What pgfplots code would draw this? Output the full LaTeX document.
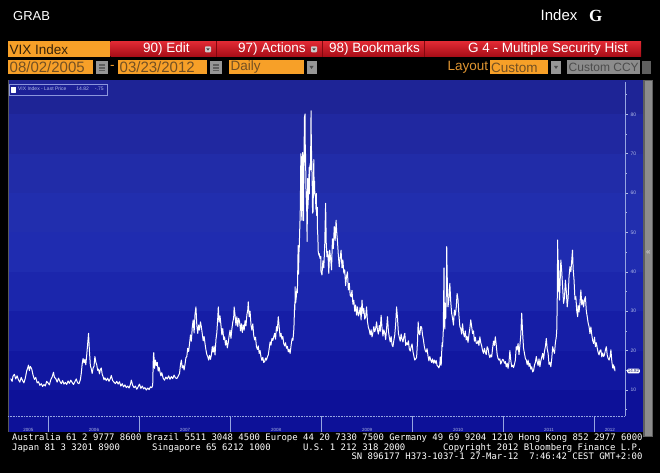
\documentclass[border=0pt]{standalone}
\usepackage{pgfplots}
\usepackage{pgfplotstable}
\pgfplotsset{compat=1.18}
\usepackage{fontspec}
\setmainfont{Liberation Sans}
\newfontfamily\bbmono{DejaVu Sans Mono}
\newfontfamily\bbserif{Liberation Serif}
\definecolor{bbamber}{RGB}{247,160,40}
\definecolor{bblayout}{RGB}{225,150,50}
\definecolor{bbtext}{RGB}{55,35,10}
\definecolor{bbtext2}{RGB}{115,80,35}
\definecolor{bbredtop}{RGB}{225,42,52}
\definecolor{bbredbot}{RGB}{165,12,22}
\definecolor{bbredsep}{RGB}{130,8,15}
\definecolor{bbgray}{RGB}{150,150,150}
\definecolor{bbgraylight}{RGB}{140,140,140}
\definecolor{bbgraydark}{RGB}{95,95,95}
\definecolor{tickc}{RGB}{175,185,230}
\definecolor{axisc}{RGB}{150,165,225}
\definecolor{legfill}{RGB}{28,32,150}
\definecolor{legdraw}{RGB}{140,150,220}
\definecolor{tagtext}{RGB}{20,25,120}
\definecolor{b0}{RGB}{30,36,150}
\definecolor{b1}{RGB}{32,40,160}
\definecolor{b2}{RGB}{33,44,168}
\definecolor{b3}{RGB}{33,46,174}
\definecolor{b4}{RGB}{31,44,176}
\definecolor{b5}{RGB}{27,38,172}
\definecolor{b6}{RGB}{22,30,166}
\definecolor{b7}{RGB}{17,23,160}
\definecolor{b8}{RGB}{13,17,152}

\pgfplotstableread{
t v
2005.585 12.9
2005.600 12.2
2005.610 13.5
2005.625 14.0
2005.640 12.8
2005.655 13.6
2005.670 12.6
2005.685 12.0
2005.700 13.2
2005.715 12.4
2005.730 11.8
2005.745 13.0
2005.760 14.8
2005.770 15.5
2005.780 16.3
2005.790 14.9
2005.800 16.0
2005.815 15.4
2005.830 13.8
2005.845 12.7
2005.860 13.2
2005.875 11.8
2005.890 12.1
2005.905 11.2
2005.920 11.6
2005.935 10.9
2005.950 11.4
2005.965 11.0
2005.980 12.2
2005.995 11.8
2006.010 11.3
2006.025 12.6
2006.040 13.3
2006.055 14.5
2006.065 13.2
2006.080 12.9
2006.095 12.0
2006.110 13.0
2006.125 12.2
2006.140 11.6
2006.155 12.4
2006.170 11.5
2006.185 11.9
2006.200 11.4
2006.215 12.3
2006.230 11.7
2006.245 12.5
2006.260 11.9
2006.275 11.4
2006.290 12.1
2006.305 12.8
2006.320 11.8
2006.335 11.6
2006.350 12.6
2006.360 14.2
2006.370 16.6
2006.380 18.0
2006.390 16.9
2006.400 17.8
2006.410 16.4
2006.420 18.9
2006.430 21.6
2006.440 24.4
2006.450 19.8
2006.460 16.2
2006.470 15.4
2006.480 14.2
2006.490 15.6
2006.500 16.0
2006.510 18.5
2006.520 17.1
2006.530 16.4
2006.540 15.0
2006.550 15.3
2006.560 14.1
2006.570 15.2
2006.580 15.6
2006.590 14.0
2006.600 13.4
2006.610 12.6
2006.620 13.1
2006.635 12.4
2006.650 13.0
2006.665 12.2
2006.680 12.9
2006.690 13.7
2006.705 12.4
2006.720 12.0
2006.735 11.6
2006.750 12.2
2006.765 11.5
2006.780 12.1
2006.795 11.0
2006.810 11.6
2006.825 10.8
2006.840 11.3
2006.855 10.6
2006.870 11.0
2006.885 10.5
2006.900 11.4
2006.910 12.5
2006.925 11.2
2006.940 10.6
2006.955 11.0
2006.970 10.2
2006.985 10.8
2007.000 11.5
2007.015 10.4
2007.030 11.0
2007.045 10.3
2007.060 10.6
2007.075 10.0
2007.090 10.5
2007.105 10.1
2007.120 10.8
2007.135 10.6
2007.145 11.2
2007.152 18.3
2007.157 19.5
2007.165 15.5
2007.175 17.6
2007.185 16.2
2007.195 17.0
2007.205 14.8
2007.215 15.8
2007.225 14.6
2007.235 13.6
2007.245 14.4
2007.260 13.0
2007.275 12.5
2007.290 13.3
2007.305 12.8
2007.320 13.6
2007.335 12.7
2007.350 13.4
2007.365 12.9
2007.380 13.8
2007.395 13.1
2007.410 12.9
2007.425 13.5
2007.440 14.2
2007.450 16.4
2007.460 17.6
2007.470 15.6
2007.480 16.2
2007.490 15.1
2007.500 16.5
2007.510 18.2
2007.520 18.5
2007.530 20.6
2007.540 19.8
2007.550 21.8
2007.560 24.0
2007.570 22.4
2007.580 26.0
2007.590 27.8
2007.600 24.5
2007.610 29.2
2007.620 31.1
2007.630 26.4
2007.640 24.4
2007.650 26.5
2007.660 25.2
2007.670 27.3
2007.680 26.0
2007.690 24.2
2007.700 22.5
2007.710 23.6
2007.720 21.8
2007.730 20.2
2007.740 19.0
2007.750 18.5
2007.760 17.6
2007.770 18.8
2007.780 17.8
2007.790 18.9
2007.800 21.0
2007.810 19.6
2007.820 21.2
2007.830 18.9
2007.840 22.8
2007.850 24.6
2007.860 28.3
2007.866 31.1
2007.875 27.2
2007.885 28.8
2007.895 26.5
2007.905 24.0
2007.915 25.6
2007.925 22.8
2007.935 23.5
2007.945 21.4
2007.955 22.6
2007.965 20.7
2007.975 22.0
2007.985 23.8
2007.995 25.2
2008.005 23.1
2008.015 25.5
2008.025 27.2
2008.035 28.4
2008.040 31.1
2008.050 29.0
2008.060 26.4
2008.070 28.6
2008.080 26.1
2008.090 28.2
2008.100 27.3
2008.110 25.0
2008.120 26.8
2008.130 24.6
2008.140 26.5
2008.150 25.2
2008.160 27.6
2008.170 26.3
2008.180 29.1
2008.190 30.4
2008.195 32.4
2008.205 28.6
2008.215 30.0
2008.225 26.5
2008.235 25.2
2008.245 26.8
2008.255 23.9
2008.265 22.7
2008.275 23.4
2008.285 21.0
2008.295 20.3
2008.305 21.2
2008.315 19.3
2008.325 20.0
2008.335 18.4
2008.345 17.5
2008.355 18.3
2008.365 17.0
2008.375 17.2
2008.385 18.1
2008.395 17.6
2008.405 18.4
2008.415 18.9
2008.425 20.5
2008.435 22.2
2008.445 21.4
2008.455 23.1
2008.465 22.6
2008.475 23.5
2008.485 24.4
2008.495 22.9
2008.505 26.1
2008.515 25.0
2008.520 27.0
2008.525 28.6
2008.535 26.0
2008.545 23.5
2008.555 24.4
2008.565 22.9
2008.575 23.6
2008.585 21.8
2008.595 21.2
2008.605 22.0
2008.615 20.6
2008.625 21.1
2008.635 19.7
2008.645 20.3
2008.655 19.3
2008.6694 22.0
2008.6776 23.1
2008.6858 22.6
2008.6913 24.0
2008.6967 25.7
2008.7049 31.7
2008.7077 30.3
2008.7104 36.2
2008.7131 33.1
2008.7158 32.1
2008.7240 33.9
2008.7295 35.7
2008.7350 34.7
2008.7432 46.7
2008.7459 39.4
2008.7486 39.8
2008.7514 45.3
2008.7541 45.1
2008.7623 52.1
2008.7650 53.7
2008.7678 57.5
2008.7705 63.9
2008.7732 70.0
2008.7814 55.0
2008.7842 53.1
2008.7869 69.3
2008.7896 67.6
2008.7923 70.3
2008.8005 53.0
2008.8033 53.1
2008.8060 69.7
2008.8087 67.8
2008.8115 79.1
2008.8197 80.1
2008.8224 67.0
2008.8251 70.0
2008.8279 62.9
2008.8306 59.9
2008.8388 54.7
2008.8415 47.7
2008.8443 54.6
2008.8470 63.7
2008.8497 56.1
2008.8579 60.0
2008.8607 61.4
2008.8634 66.5
2008.8661 59.8
2008.8689 66.3
2008.8770 67.6
2008.8798 65.9
2008.8825 74.3
2008.8852 80.9
2008.8880 72.7
2008.8962 64.7
2008.8989 60.9
2008.9016 54.9
2008.9071 55.3
2008.9153 68.5
2008.9180 63.0
2008.9208 59.9
2008.9235 63.0
2008.9262 59.9
2008.9344 58.9
2008.9372 56.9
2008.9399 55.7
2008.9426 59.9
2008.9454 54.3
2008.9536 56.4
2008.9563 49.8
2008.9590 49.4
2008.9617 47.3
2008.9645 44.9
2008.9727 44.2
2008.9754 44.6
2008.9836 43.4
2008.9918 43.9
2008.9945 39.9
2008.9973 40.0
2009.005 39.2
2009.015 42.8
2009.025 41.0
2009.035 46.4
2009.045 57.4
2009.052 47.3
2009.060 43.8
2009.070 45.2
2009.080 39.6
2009.090 45.5
2009.100 43.4
2009.110 40.5
2009.120 48.4
2009.130 45.9
2009.140 51.5
2009.150 48.0
2009.160 53.1
2009.168 49.8
2009.175 47.9
2009.185 44.2
2009.195 41.3
2009.205 43.6
2009.215 45.5
2009.225 41.0
2009.235 43.0
2009.245 39.7
2009.255 40.5
2009.265 36.5
2009.275 38.8
2009.285 40.0
2009.295 35.4
2009.305 37.1
2009.315 34.1
2009.325 33.7
2009.335 35.3
2009.345 31.8
2009.355 32.8
2009.365 30.0
2009.375 31.6
2009.385 29.0
2009.395 31.1
2009.405 28.8
2009.415 29.5
2009.425 31.0
2009.435 27.8
2009.445 32.8
2009.455 29.4
2009.465 30.7
2009.475 28.0
2009.485 28.6
2009.495 31.1
2009.505 27.4
2009.515 25.9
2009.525 25.2
2009.535 24.0
2009.545 25.3
2009.555 23.5
2009.565 24.6
2009.575 26.1
2009.585 24.8
2009.595 25.6
2009.605 27.3
2009.615 25.2
2009.625 24.2
2009.635 26.4
2009.645 24.9
2009.655 29.0
2009.665 25.8
2009.675 23.7
2009.685 25.3
2009.695 24.4
2009.705 22.8
2009.715 25.6
2009.725 28.6
2009.735 25.0
2009.745 23.4
2009.755 22.2
2009.765 23.6
2009.775 21.5
2009.785 21.0
2009.795 22.6
2009.805 24.0
2009.815 26.8
2009.825 31.1
2009.835 28.3
2009.845 24.4
2009.855 23.3
2009.865 22.4
2009.875 24.2
2009.885 22.9
2009.895 22.2
2009.905 23.5
2009.915 24.4
2009.925 21.3
2009.935 22.0
2009.945 21.5
2009.955 22.5
2009.965 20.4
2009.975 19.9
2009.985 21.0
2009.995 21.7
2010.005 19.8
2010.015 18.6
2010.025 17.6
2010.035 17.9
2010.045 18.3
2010.055 22.3
2010.062 27.3
2010.070 24.6
2010.080 24.0
2010.090 26.1
2010.100 26.0
2010.110 24.0
2010.120 22.7
2010.130 21.0
2010.140 20.0
2010.150 19.6
2010.160 20.5
2010.170 18.7
2010.180 17.4
2010.190 18.5
2010.200 17.6
2010.210 17.0
2010.220 17.9
2010.230 16.8
2010.240 17.6
2010.250 16.8
2010.260 17.5
2010.270 16.2
2010.280 16.0
2010.290 15.6
2010.300 16.4
2010.305 18.4
2010.315 16.3
2010.325 22.0
2010.330 21.0
2010.338 25.0
2010.342 32.8
2010.346 41.0
2010.350 28.0
2010.355 25.5
2010.360 32.0
2010.365 28.2
2010.372 35.0
2010.376 46.4
2010.380 40.0
2010.385 35.5
2010.390 31.1
2010.400 33.0
2010.410 37.1
2010.420 32.5
2010.430 29.5
2010.440 28.2
2010.450 26.5
2010.460 30.3
2010.470 29.0
2010.480 30.8
2010.490 34.5
2010.500 32.9
2010.510 29.0
2010.520 26.1
2010.530 25.6
2010.540 24.2
2010.550 26.8
2010.560 24.4
2010.570 23.5
2010.580 25.0
2010.590 22.7
2010.600 23.6
2010.610 22.1
2010.620 24.0
2010.630 25.6
2010.640 27.8
2010.650 26.1
2010.660 24.3
2010.670 25.0
2010.680 22.4
2010.690 23.4
2010.700 21.9
2010.710 21.8
2010.720 22.5
2010.730 21.3
2010.740 23.5
2010.750 22.0
2010.760 21.2
2010.770 20.0
2010.780 19.3
2010.790 20.6
2010.800 19.6
2010.810 19.0
2010.820 21.0
2010.830 20.5
2010.840 19.0
2010.850 18.2
2010.860 18.9
2010.870 18.4
2010.880 20.6
2010.890 22.4
2010.900 21.3
2010.910 23.5
2010.920 21.4
2010.930 19.0
2010.940 18.0
2010.950 17.6
2010.960 17.9
2010.970 16.6
2010.980 17.2
2010.990 17.8
2011.000 17.6
2011.010 16.8
2011.020 17.2
2011.030 15.9
2011.040 16.8
2011.050 15.5
2011.060 17.0
2011.070 20.0
2011.080 17.5
2011.090 15.9
2011.100 16.3
2011.110 15.7
2011.120 16.5
2011.130 17.6
2011.140 21.0
2011.150 20.2
2011.160 21.8
2011.170 19.0
2011.180 21.3
2011.190 24.0
2011.200 29.5
2011.210 24.4
2011.220 20.6
2011.230 19.3
2011.240 18.0
2011.250 17.6
2011.260 16.4
2011.270 17.6
2011.280 16.0
2011.290 16.8
2011.300 15.3
2011.310 15.9
2011.320 14.6
2011.330 14.9
2011.340 16.3
2011.350 17.0
2011.360 18.5
2011.370 17.2
2011.380 16.2
2011.390 17.9
2011.400 15.9
2011.410 17.4
2011.420 18.3
2011.430 19.3
2011.440 17.8
2011.450 19.8
2011.460 21.0
2011.470 23.1
2011.480 20.5
2011.490 19.3
2011.500 16.5
2011.510 17.0
2011.520 15.9
2011.530 18.0
2011.540 21.0
2011.550 20.0
2011.560 19.3
2011.570 22.0
2011.580 23.5
2011.585 25.3
2011.590 32.0
2011.595 48.1
2011.600 35.1
2011.605 42.9
2011.610 36.4
2011.615 32.8
2011.620 36.0
2011.630 43.0
2011.640 40.0
2011.650 35.9
2011.660 32.0
2011.670 33.5
2011.680 37.9
2011.690 35.0
2011.700 31.1
2011.710 33.5
2011.720 38.8
2011.730 41.3
2011.740 40.0
2011.750 43.0
2011.758 45.5
2011.765 40.8
2011.775 37.9
2011.785 33.0
2011.795 33.7
2011.805 30.0
2011.815 28.6
2011.820 31.5
2011.830 29.8
2011.840 32.0
2011.850 35.4
2011.860 31.6
2011.870 32.9
2011.880 31.1
2011.890 33.0
2011.900 33.7
2011.910 30.0
2011.920 28.6
2011.930 27.0
2011.940 26.1
2011.950 24.3
2011.960 26.0
2011.970 24.0
2011.980 22.5
2011.990 21.8
2012.000 23.4
2012.010 21.0
2012.020 22.0
2012.030 20.6
2012.040 19.5
2012.050 18.9
2012.060 20.0
2012.070 20.2
2012.080 18.4
2012.090 19.4
2012.100 18.5
2012.110 19.0
2012.120 20.2
2012.130 21.0
2012.140 18.8
2012.150 18.0
2012.160 17.6
2012.170 18.4
2012.180 20.2
2012.190 17.3
2012.200 15.6
2012.210 16.4
2012.215 15.3
2012.220 15.9
2012.225 14.8
}\vix

\begin{document}
\begin{tikzpicture}
\useasboundingbox (0,0) rectangle (660pt,473pt);
\fill[black] (0,0) rectangle (660pt,473pt);
\begin{scope}[x=1pt,y=-1pt,shift={(0pt,473pt)}]
% chart panel bands
\fill[b0] (8,80) rectangle (643,114.2);
\fill[b1] (8,114.2) rectangle (643,153.6);
\fill[b2] (8,153.6) rectangle (643,193);
\fill[b3] (8,193) rectangle (643,232.4);
\fill[b4] (8,232.4) rectangle (643,271.8);
\fill[b5] (8,271.8) rectangle (643,311.2);
\fill[b6] (8,311.2) rectangle (643,350.6);
\fill[b7] (8,350.6) rectangle (643,390);
\fill[b8] (8,390) rectangle (643,432);
\draw[black!65, line width=0.8pt] (8,80) -- (8,432);
% scrollbar
\fill[bbgraydark] (643,80) rectangle (653,437);
\fill[black!45] (644.5,81) rectangle (652,436);
\node[text=black!15, font=\fontsize{8}{8}\selectfont, inner sep=0] at (648.3,253) {«};
% header
\node[anchor=west, inner sep=0, text=white, font=\fontsize{13}{13}\selectfont] at (13,16) {GRAB};
\node[anchor=west, inner sep=0, text=white, font=\fontsize{15}{15}\selectfont] at (540.5,15.5) {Index};
\node[anchor=west, inner sep=0, text=white, font=\bbserif\bfseries\fontsize{17}{17}\selectfont] at (589,16.3) {G};
% row 1
\fill[bbamber] (8,41.5) rectangle (109.5,57);
\node[anchor=west, inner sep=0, text=bbtext, font=\fontsize{13.5}{13.5}\selectfont] at (9.5,49.4) {VIX Index};
\shade[top color=bbredtop, bottom color=bbredbot] (110.5,41.5) rectangle (641,57);
\draw[bbredsep, line width=0.7pt] (216,41.5) -- (216,57) (322,41.5) -- (322,57) (424,41.5) -- (424,57);
\node[anchor=west, inner sep=0, text=white, font=\fontsize{13.5}{13.5}\selectfont] at (143,49.4) {90) Edit};
\node[anchor=west, inner sep=0, text=white, font=\fontsize{13.5}{13.5}\selectfont] at (238,49.4) {97) Actions};
\node[anchor=west, inner sep=0, text=white, font=\fontsize{13.5}{13.5}\selectfont] at (329,49.4) {98) Bookmarks};
\node[anchor=west, inner sep=0, text=white, font=\fontsize{13.5}{13.5}\selectfont] at (468,49.4) {G 4 - Multiple Security Hist};
\foreach \ix in {208,314}{
  \fill[black!20, rounded corners=0.8pt] (\ix-3,46.3) rectangle (\ix+3,52.3);
  \fill[black!75] (\ix-1.8,48.3) -- (\ix+1.8,48.3) -- (\ix,50.6) -- cycle;
}
% row 2
\fill[bbamber] (8,60) rectangle (93,74.5);
\node[anchor=west, inner sep=0, text=bbtext2, font=\fontsize{15}{15}\selectfont] at (9.5,67.4) {08/02/2005};
\fill[bbamber] (118,60) rectangle (207,74.5);
\node[anchor=west, inner sep=0, text=bbtext2, font=\fontsize{15}{15}\selectfont] at (119.5,67.4) {03/23/2012};
\node[anchor=west, inner sep=0, text=bbamber, font=\fontsize{13.5}{13.5}\selectfont] at (110,67.2) {-};
\foreach \ix in {96,210}{
  \fill[bbgray] (\ix,61) rectangle (\ix+11.5,74);
  \fill[bbgraydark] (\ix+2.5,64) rectangle (\ix+9,71.5);
  \draw[bbgray, line width=0.5pt] (\ix+2.5,66.5) -- (\ix+9,66.5) (\ix+2.5,69) -- (\ix+9,69);
}
\fill[bbamber] (229,60) rectangle (304,74.5);
\node[anchor=west, inner sep=0, text=bbtext2, font=\fontsize{13.5}{13.5}\selectfont] at (230.5,67.4) {Daily};
\node[anchor=west, inner sep=0, text=bblayout, font=\fontsize{13.5}{13.5}\selectfont] at (447.5,67.4) {Layout};
\fill[bbamber] (489.5,60) rectangle (548,74.5);
\node[anchor=west, inner sep=0, text=bbtext2, font=\fontsize{13.5}{13.5}\selectfont] at (491,67.4) {Custom};
\foreach \ix in {306.5,551}{
  \fill[bbgray] (\ix,61) rectangle (\ix+10,74);
  \fill[black!70] (\ix+3,66) -- (\ix+7,66) -- (\ix+5,69) -- cycle;
}
\fill[bbgraylight] (567,60) rectangle (640,74.5);
\node[anchor=west, inner sep=0, text=black!70, font=\fontsize{12}{12}\selectfont] at (568.5,67.4) {Custom CCY};
\fill[bbgraydark] (642,61) rectangle (650.5,74.5);
% footer
\node[anchor=base west, inner sep=0, text=white, font=\bbmono\fontsize{8.95}{8.95}\selectfont] at (12,441) {Australia 61 2 9777 8600 Brazil 5511 3048 4500 Europe 44 20 7330 7500 Germany 49 69 9204 1210 Hong Kong 852 2977 6000};
\node[anchor=base west, inner sep=0, text=white, font=\bbmono\fontsize{8.95}{8.95}\selectfont] at (12,450.5) {Japan 81 3 3201 8900};
\node[anchor=base west, inner sep=0, text=white, font=\bbmono\fontsize{8.95}{8.95}\selectfont] at (152,450.5) {Singapore 65 6212 1000};
\node[anchor=base west, inner sep=0, text=white, font=\bbmono\fontsize{8.95}{8.95}\selectfont] at (302.8,450.5) {U.S. 1 212 318 2000};
\node[anchor=base west, inner sep=0, text=white, font=\bbmono\fontsize{8.95}{8.95}\selectfont] at (442.8,450.5) {Copyright 2012 Bloomberg Finance L.P.};
\node[anchor=base west, inner sep=0, text=white, font=\bbmono\fontsize{8.95}{8.95}\selectfont] at (351.3,460) {SN 896177 H373-1037-1 27-Mar-12~~7:46:42 CEST GMT+2:00};
\end{scope}

\begin{axis}[
  at={(8pt,57pt)}, anchor=south west,
  scale only axis, width=617pt, height=334pt,
  xmin=2005.555, xmax=2012.335, ymin=3.4, ymax=88.2,
  clip=false,
  axis x line*=bottom, axis y line*=right,
  x axis line style={draw=axisc, densely dotted, line width=0.6pt},
  y axis line style={draw=axisc, line width=0.5pt},
  /pgf/number format/assume math mode=true,
  xtick={2005.78,2006.5,2007.5,2008.5,2009.5,2010.5,2011.5,2012.17},
  xticklabels={2005,2006,2007,2008,2009,2010,2011,2012},
  xtick style={draw=none},
  xticklabel style={font=\fontsize{4.5}{4.5}\selectfont, text=tickc, anchor=center, yshift=-10.5pt},
  ytick={10,20,30,40,50,60,70,80},
  minor ytick={5,15,25,35,45,55,65,75,85},
  tick align=outside,
  major tick length=3pt, minor tick length=1.8pt,
  ytick style={draw=tickc, line width=0.6pt},
  minor tick style={draw=tickc, line width=0.4pt},
  yticklabel style={font=\fontsize{5}{5}\selectfont, text=tickc, xshift=-1pt},
  legend style={at={(rel axis cs:0,1)}, anchor=north west, xshift=1.3pt, yshift=-2pt,
    fill=legfill, draw=legdraw, line width=0.4pt, font=\fontsize{5}{5}\selectfont,
    text=tickc, inner sep=1.2pt, outer sep=0pt},
  legend image code/.code={\fill[white] (0pt,-2.3pt) rectangle (4.6pt,2.3pt);},
]
\addplot[white, line width=1pt, line join=round] table[x=t, y=v] {\vix};
\addlegendentry{VIX Index - Last Price\hspace{10pt}14.82\hspace{6pt}-.75}
\pgfplotsinvokeforeach{2006,2007,2008,2009,2010,2011,2012}{
  \draw[axisc, line width=0.5pt] (axis cs:#1,3.4) -- ++(0pt,-16pt);
}
\node[fill=white, rounded corners=1.2pt, inner sep=0.7pt, anchor=west, xshift=2pt,
  font=\fontsize{4.5}{4.5}\selectfont, text=tagtext] at (axis cs:2012.335,14.82) {14.82};
\end{axis}
\end{tikzpicture}
\end{document}
